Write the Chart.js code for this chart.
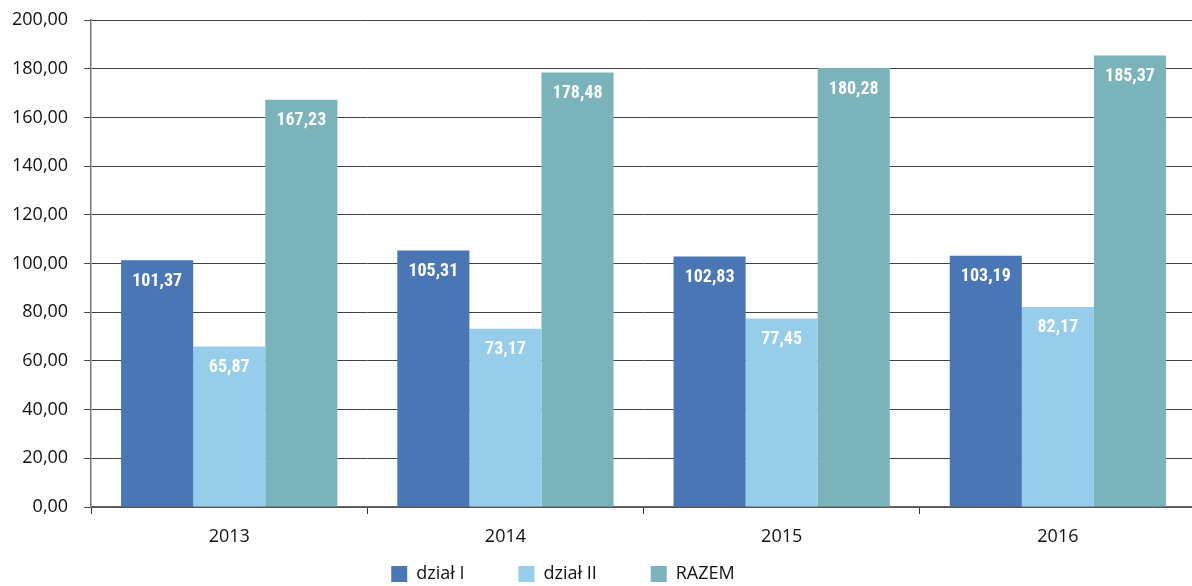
<!DOCTYPE html>
<html>
<head>
<meta charset="utf-8">
<script src="https://cdn.jsdelivr.net/npm/chart.js@4/dist/chart.umd.min.js"></script>
<style>
  html, body { margin: 0; padding: 0; background: #fff; overflow: hidden; }
  #wrap { width: 1196px; height: 586px; }
</style>
</head>
<body>
<div id="wrap"><canvas id="chart"></canvas></div>
<script>
const years = ["2013", "2014", "2015", "2016"];
const dzialI = [101.37, 105.31, 102.83, 103.19];
const dzialII = [65.87, 73.17, 77.45, 82.17];
const razem = [167.23, 178.48, 180.28, 185.37];
const seriesNames = ["dział I", "dział II", "RAZEM"];
const colors = ["#4a76b6", "#95cdeb", "#7ab3ba"];

const fmt = (v) => v.toFixed(2).replace(".", ",");
const font = "'Open Sans', 'Noto Sans', sans-serif";

// white value labels inside the top of each bar
const barLabels = {
  id: "barLabels",
  afterDatasetsDraw(chart) {
    const ctx = chart.ctx;
    ctx.save();
    ctx.fillStyle = "#fff";
    ctx.font = "bold 18px 'Liberation Sans Narrow', 'Roboto Condensed', sans-serif";
    ctx.textAlign = "center";
    ctx.textBaseline = "middle";
    chart.data.datasets.forEach((ds, i) => {
      chart.getDatasetMeta(i).data.forEach((bar, j) => {
        ctx.fillText(fmt(ds.data[j]), bar.x, bar.y + 21);
      });
    });
    ctx.restore();
  }
};

new Chart(document.getElementById("chart"), {
  type: "bar",
  data: {
    labels: years,
    datasets: [dzialI, dzialII, razem].map((d, i) => ({
      label: seriesNames[i],
      data: d,
      backgroundColor: colors[i],
      borderWidth: 0,
      barPercentage: 1,
      categoryPercentage: 0.783
    }))
  },
  options: {
    responsive: true,
    maintainAspectRatio: false,
    animation: false,
    layout: { padding: { top: 20, right: 0, left: -4, bottom: -7 } },
    plugins: {
      tooltip: { enabled: false },
      legend: {
        position: "bottom",
        labels: {
          boxWidth: 16,
          boxHeight: 16,
          padding: 3,
          color: "#111",
          font: { family: font, size: 18 },
          // wider gaps between items without growing the legend height
          generateLabels(chart) {
            const items = Chart.defaults.plugins.legend.labels.generateLabels(chart);
            items.forEach((it, i) => {
              it.text += i < items.length - 1
                ? "\u2003\u2003\u2002\u2006\u2006"
                : "\u2003\u2003\u2003\u2006\u2006\u2006\u2006";
            });
            return items;
          }
        }
      }
    },
    scales: {
      x: {
        afterFit(scale) { scale.height = 55; },
        grid: {
          offset: true,
          drawOnChartArea: false,
          drawTicks: true,
          tickLength: 7,
          color: "#333"
        },
        border: { color: "#666", width: 1.5 },
        ticks: {
          color: "#111",
          padding: 12,
          font: { family: font, size: 18 }
        }
      },
      y: {
        min: 0,
        max: 200,
        afterFit(scale) { scale.paddingTop = 0; },
        ticks: {
          stepSize: 20,
          color: "#111",
          padding: 16,
          font: { family: font, size: 18 },
          callback: (v) => fmt(v)
        },
        grid: {
          color: "#444",
          lineWidth: 1,
          tickLength: 7
        },
        border: { color: "#777", width: 1.5 }
      }
    }
  },
  plugins: [barLabels]
});
</script>
</body>
</html>
